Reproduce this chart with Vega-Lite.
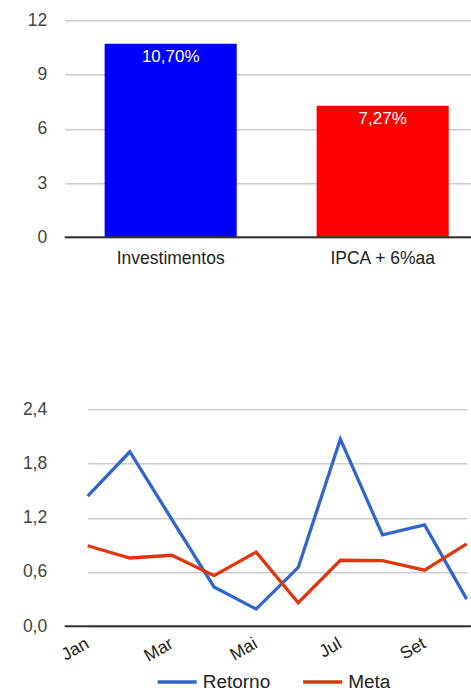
{
  "$schema": "https://vega.github.io/schema/vega-lite/v6.json",
  "autosize": {"type": "pad"},
  "padding": {"left": 21.7, "top": 11.25, "right": 0, "bottom": 0},
  "background": "white",
  "bounds": "flush",
  "spacing": 172,
  "resolve": {"scale": {"color": "independent", "x": "independent", "y": "independent"}, "legend": {"color": "independent"}},
  "config": {
    "font": "Liberation Sans",
    "view": {"stroke": null},
    "axis": {"labelFont": "Liberation Sans", "ticks": false, "domain": false, "title": null, "gridColor": "#cccccc", "gridWidth": 1.5},
    "legend": {"labelFont": "Liberation Sans", "padding": 0}
  },
  "vconcat": [
    {
      "width": 407,
      "height": 217,
      "data": {"values": [
        {"categoria": "Investimentos", "valor": 10.70, "rotulo": "10,70%"},
        {"categoria": "IPCA + 6%aa", "valor": 7.27, "rotulo": "7,27%"}
      ]},
      "layer": [
        {
          "mark": {"type": "bar"},
          "encoding": {
            "x": {"field": "categoria", "type": "nominal", "sort": null,
              "scale": {"range": [0, 424], "paddingInner": 0.377, "paddingOuter": 0.1885},
              "axis": {"labelAngle": 0, "labelFontSize": 17.5, "labelColor": "#222222", "labelPadding": 12, "grid": false}},
            "y": {"field": "valor", "type": "quantitative", "scale": {"domain": [0, 12]},
              "axis": {"values": [0, 3, 6, 9, 12], "labelFontSize": 17.5, "labelColor": "#444444", "labelPadding": 18}},
            "color": {"field": "categoria", "type": "nominal",
              "scale": {"domain": ["Investimentos", "IPCA + 6%aa"], "range": ["#0000ff", "#ff0000"]}, "legend": null}
          }
        },
        {
          "mark": {"type": "text", "baseline": "top", "dy": 5, "color": "white", "fontSize": 17},
          "encoding": {
            "x": {"field": "categoria", "type": "nominal", "sort": null},
            "y": {"field": "valor", "type": "quantitative"},
            "text": {"field": "rotulo"}
          }
        },
        {
          "data": {"values": [{"base": 0}]},
          "mark": {"type": "rule", "color": "#333333", "strokeWidth": 2},
          "encoding": {"y": {"field": "base", "type": "quantitative"}}
        }
      ]
    },
    {
      "width": 407,
      "height": 217,
      "data": {"values": [
        {"mes": "Jan", "serie": "Retorno", "valor": 1.44},
        {"mes": "Fev", "serie": "Retorno", "valor": 1.93},
        {"mes": "Mar", "serie": "Retorno", "valor": 1.18},
        {"mes": "Abr", "serie": "Retorno", "valor": 0.435},
        {"mes": "Mai", "serie": "Retorno", "valor": 0.19},
        {"mes": "Jun", "serie": "Retorno", "valor": 0.65},
        {"mes": "Jul", "serie": "Retorno", "valor": 2.07},
        {"mes": "Ago", "serie": "Retorno", "valor": 1.01},
        {"mes": "Set", "serie": "Retorno", "valor": 1.12},
        {"mes": "Out", "serie": "Retorno", "valor": 0.30},
        {"mes": "Jan", "serie": "Meta", "valor": 0.89},
        {"mes": "Fev", "serie": "Meta", "valor": 0.755},
        {"mes": "Mar", "serie": "Meta", "valor": 0.785},
        {"mes": "Abr", "serie": "Meta", "valor": 0.56},
        {"mes": "Mai", "serie": "Meta", "valor": 0.82},
        {"mes": "Jun", "serie": "Meta", "valor": 0.26},
        {"mes": "Jul", "serie": "Meta", "valor": 0.73},
        {"mes": "Ago", "serie": "Meta", "valor": 0.725},
        {"mes": "Set", "serie": "Meta", "valor": 0.62},
        {"mes": "Out", "serie": "Meta", "valor": 0.91}
      ]},
      "layer": [
        {
          "mark": {"type": "line", "strokeWidth": 3.3},
          "encoding": {
            "x": {"field": "mes", "type": "ordinal",
              "sort": ["Jan", "Fev", "Mar", "Abr", "Mai", "Jun", "Jul", "Ago", "Set", "Out"],
              "scale": {"type": "point", "range": [23, 402], "padding": 0},
              "axis": {"values": ["Jan", "Mar", "Mai", "Jul", "Set"], "labelAngle": -30, "labelAlign": "right", "labelBaseline": "top", "labelFontSize": 17.5, "labelColor": "#222222", "labelPadding": 8, "labelOffset": -5, "grid": false}},
            "y": {"field": "valor", "type": "quantitative", "scale": {"domain": [0, 2.4]},
              "axis": {"values": [0, 0.6, 1.2, 1.8, 2.4], "labelExpr": "replace(format(datum.value, '.1f'), '.', ',')", "labelFontSize": 17.5, "labelColor": "#444444", "labelPadding": 18}},
            "color": {"field": "serie", "type": "nominal",
              "scale": {"domain": ["Retorno", "Meta"], "range": ["#3366cc", "#dc3912"]},
              "legend": {"orient": "none", "legendX": 101, "legendY": 261, "direction": "horizontal", "title": null,
                "symbolType": "M-2,0H2", "symbolSize": 380, "symbolStrokeWidth": 3.5,
                "labelFontSize": 19, "labelColor": "#222222", "labelOffset": 14, "columnPadding": 25.5}}
          }
        },
        {
          "data": {"values": [{"base": 0}]},
          "mark": {"type": "rule", "color": "#333333", "strokeWidth": 2},
          "encoding": {"y": {"field": "base", "type": "quantitative"}}
        }
      ]
    }
  ]
}
